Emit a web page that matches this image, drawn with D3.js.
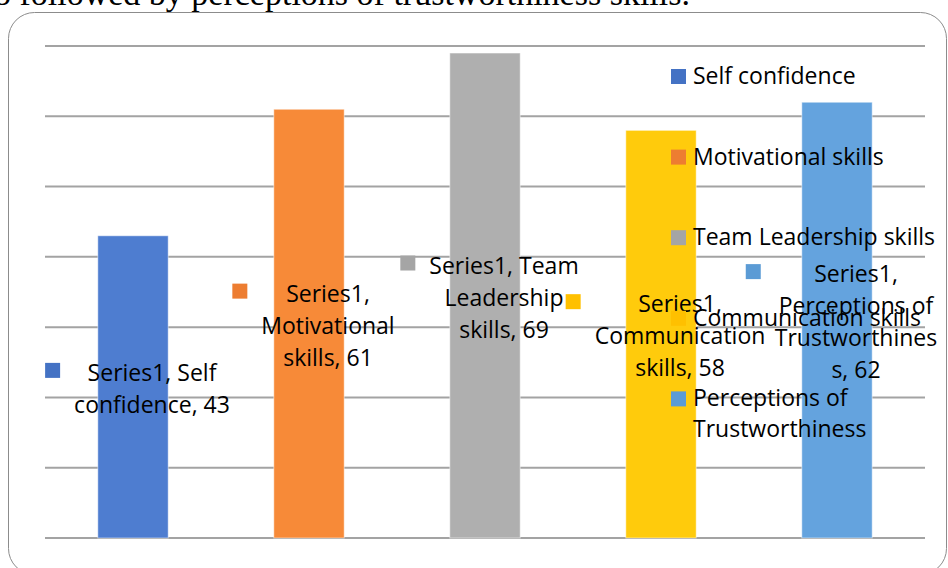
<!DOCTYPE html>
<html>
<head>
<meta charset="utf-8">
<script src="https://cdn.jsdelivr.net/npm/d3@7"></script>
<style>
  html, body { margin: 0; padding: 0; background: #fff; }
  svg { display: block; }
</style>
</head>
<body>
<div id="chart"></div>
<script>
/* ===================================
   Leadership skills bar chart
   =================================== */

const categories = ['Self confidence', 'Motivational skills', 'Team Leadership skills', 'Communication skills', 'Perceptions of Trustworthiness'];
const values = [43, 61, 69, 58, 62];
const barColors = ['#4e7dd0', '#f78a38', '#afafaf', '#ffcb0c', '#64a3de'];
const keyColors = ['#4472c4', '#ed7d31', '#a5a5a5', '#ffc000', '#5b9bd5'];
const yTicks = [0, 10, 20, 30, 40, 50, 60, 70];

// legend text, wrapped as in the original
const legendLines = [
    ['Self confidence'],
    ['Motivational skills'],
    ['Team Leadership skills'],
    ['Communication skills'],
    ['Perceptions of', 'Trustworthiness']
];

// data label text, wrapped as in the original
const labelLines = [
    ['Series1, Self', 'confidence, 43'],
    ['Series1,', 'Motivational', 'skills, 61'],
    ['Series1, Team', 'Leadership', 'skills, 69'],
    ['Series1,', 'Communication', 'skills, 58'],
    ['Series1,', 'Perceptions of', 'Trustworthines', 's, 62']
];

const width = 948;
const height = 568;
const plot = { left: 45, right: 925, top: 46, bottom: 538 };
const FONT = '"Open Sans", "Noto Sans", sans-serif';

const svg = d3.select('#chart')
    .append('svg')
    .attr('width', width)
    .attr('height', height);

// caption of the page the chart was cut from (cut at the top)
svg.append('text')
    .attr('x', -6)
    .attr('y', 5)
    .style('font-family', '"Liberation Serif", "Times New Roman", serif')
    .style('font-size', '34px')
    .attr('fill', '#000')
    .text('o followed by perceptions of trustworthiness skills.');

// chart frame
svg.append('rect')
    .attr('x', 8.5)
    .attr('y', 12.5)
    .attr('width', 938)
    .attr('height', 562)
    .attr('rx', 26)
    .attr('ry', 26)
    .attr('fill', 'none')
    .attr('stroke', '#8c8c8c')
    .attr('stroke-width', 1);

const x = d3.scaleBand()
    .domain(categories)
    .range([plot.left, plot.right])
    .paddingInner(0.6)
    .paddingOuter(0.3);

const y = d3.scaleLinear()
    .domain([0, 70])
    .range([plot.bottom, plot.top]);

// gridlines
svg.append('g')
    .selectAll('line')
    .data(yTicks)
    .enter()
    .append('line')
    .attr('x1', plot.left)
    .attr('x2', plot.right)
    .attr('y1', d => y(d))
    .attr('y2', d => y(d))
    .attr('stroke', '#a3a3a3')
    .attr('stroke-width', 2);

// bars
svg.append('g')
    .selectAll('rect')
    .data(values)
    .enter()
    .append('rect')
    .attr('x', (d, i) => x(categories[i]))
    .attr('y', d => y(d))
    .attr('width', x.bandwidth())
    .attr('height', d => y(0) - y(d))
    .attr('fill', (d, i) => barColors[i])
    .attr('stroke', '#ffffff')
    .attr('stroke-opacity', 0.5)
    .attr('stroke-width', 1);

// data labels: centred on the bar's middle, nudged right, key square on the left
const lineH = 32;
labelLines.forEach((lines, i) => {
    const cx = x(categories[i]) + x.bandwidth() / 2 + 19;
    const cy = y(values[i] / 2);
    const firstBase = cy - (lines.length - 1) * lineH / 2 + 10;

    const g = svg.append('g');
    let maxW = 0;
    lines.forEach((t, j) => {
        const txt = g.append('text')
            .attr('x', cx)
            .attr('y', firstBase + j * lineH)
            .attr('text-anchor', 'middle')
            .style('font-family', FONT)
            .style('font-size', '23px')
            .attr('fill', '#000')
            .text(t);
        maxW = Math.max(maxW, txt.node().getComputedTextLength());
    });

    g.insert('rect', 'text')
        .attr('x', cx - maxW / 2 - 29)
        .attr('y', firstBase - 18)
        .attr('width', 15)
        .attr('height', 15)
        .attr('fill', keyColors[i]);
});

// legend (right side, overlapping the plot as in the original)
const legend = svg.append('g')
    .attr('transform', 'translate(671, 84)');

legendLines.forEach((lines, i) => {
    const item = legend.append('g')
        .attr('transform', `translate(0, ${i * 80.6})`);

    item.append('rect')
        .attr('x', 0)
        .attr('y', -15)
        .attr('width', 15)
        .attr('height', 15)
        .attr('fill', keyColors[i]);

    lines.forEach((t, j) => {
        item.append('text')
            .attr('x', 22)
            .attr('y', j * 31)
            .style('font-family', FONT)
            .style('font-size', '23px')
            .attr('fill', '#000')
            .text(t);
    });
});
</script>
</body>
</html>
